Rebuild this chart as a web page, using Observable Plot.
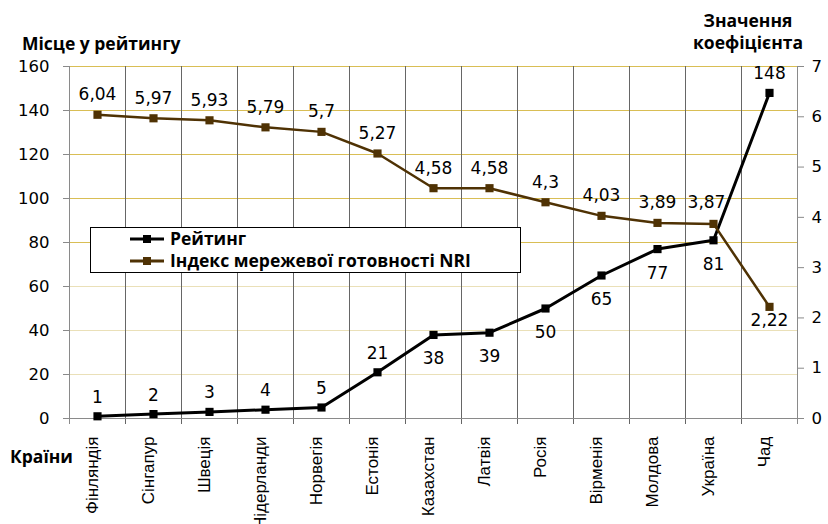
<!DOCTYPE html>
<html><head><meta charset="utf-8">
<script src="https://cdn.jsdelivr.net/npm/d3@7"></script>
<script src="https://cdn.jsdelivr.net/npm/@observablehq/plot@0.6"></script>
<style>
body{margin:0;background:#fff}
#wrap{position:relative;width:828px;height:524px;overflow:hidden;background:#fff}
#wrap svg{position:absolute;left:0;top:0}
</style></head><body><div id="wrap"></div>
<script>
const countries = ["Фінляндія","Сінгапур","Швеція","Нідерланди","Норвегія","Естонія","Казахстан","Латвія","Росія","Вірменія","Молдова","Україна","Чад"];
const rank = [1,2,3,4,5,21,38,39,50,65,77,81,148];
const nri = [6.04,5.97,5.93,5.79,5.7,5.27,4.58,4.58,4.3,4.03,3.89,3.87,2.22];
const leftTicks = [0,20,40,60,80,100,120,140,160];
const rightTicks = [0,1,2,3,4,5,6,7];
const seriesNames = ["Рейтинг","Індекс мережевої готовності NRI"];
const leftTitle = "Місце у рейтингу";
const rightTitle = ["Значення","коефіцієнта"];
const xTitle = "Країни";

const k = 160 / 7;
const data = countries.map((c, i) => ({c, i, rank: rank[i], nri: nri[i], nriY: nri[i] * k}));
const fmt = v => String(v).replace(".", ",");
const boundaries = d3.range(0, countries.length + 1).map(i => i - 0.5);
const inner = boundaries.slice(1, -1);
const edges = [boundaries[0], boundaries[boundaries.length - 1]];
const rankAbove = d => d.i <= 5 || d.i === countries.length - 1;
const nriBelow = d => d.i === countries.length - 1;
const numFont = "DejaVu Sans";
const BROWN = "#4F3204";
const LFS = 17;

const plot = Plot.plot({
  width: 828, height: 524,
  marginLeft: 69, marginRight: 31, marginTop: 66, marginBottom: 106,
  x: {domain: [-0.5, countries.length - 0.5], axis: null},
  y: {domain: [0, 160], axis: null},
  style: {fontFamily: numFont, fontSize: "16px", background: "white", color: "#000"},
  marks: [
    Plot.ruleY(leftTicks.filter(v => v >= 80), {stroke: "#D9BE55", strokeWidth: 1.2}),
    Plot.ruleY(leftTicks.filter(v => v > 0 && v < 80), {stroke: "#EAE0B8", strokeWidth: 1.2}),
    Plot.ruleX(inner, {stroke: "#666", insetBottom: -6}),
    Plot.ruleX(edges, {stroke: "#8a8a8a", insetBottom: -6}),
    Plot.ruleY([0], {stroke: "#8a8a8a"}),
    Plot.axisY(leftTicks, {anchor: "left", tickSize: 6, tickPadding: 14, label: null, stroke: "#8a8a8a", fontSize: 16.5, fontFamily: numFont}),
    Plot.axisY(rightTicks.map(v => v * k), {anchor: "right", tickSize: 6, tickPadding: 8, label: null, stroke: "#8a8a8a", tickFormat: v => String(Math.round(v / k)), fontSize: 16.5, fontFamily: numFont}),
    Plot.line(data, {x: "i", y: "rank", stroke: "#000", strokeWidth: 3}),
    Plot.line(data, {x: "i", y: "nriY", stroke: BROWN, strokeWidth: 2.5}),
    Plot.dot(data, {x: "i", y: "rank", symbol: "square", r: 4.6, fill: "#000", stroke: "none"}),
    Plot.dot(data, {x: "i", y: "nriY", symbol: "square", r: 4.6, fill: BROWN, stroke: "none"}),
    Plot.text(data.filter(rankAbove), {x: "i", y: "rank", text: d => fmt(d.rank), dy: -19, fill: "#000", fontSize: LFS}),
    Plot.text(data.filter(d => !rankAbove(d)), {x: "i", y: "rank", text: d => fmt(d.rank), dy: 24, fill: "#000", fontSize: LFS}),
    Plot.text(data.filter(d => !nriBelow(d) && d.i !== 11), {x: "i", y: "nriY", text: d => fmt(d.nri), dy: -20, fill: "#000", fontSize: LFS}),
    Plot.text(data.filter(d => d.i === 11), {x: "i", y: "nriY", text: d => fmt(d.nri), dy: -21, dx: -7, fill: "#000", fontSize: LFS}),
    Plot.text(data.filter(nriBelow), {x: "i", y: "nriY", text: d => fmt(d.nri), dy: 14, fill: "#000", fontSize: LFS}),
    Plot.text(data, {x: "i", frameAnchor: "bottom", dy: 18, rotate: -90, textAnchor: "end", text: "c", fill: "#000", fontSize: 17, fontFamily: "Liberation Sans"})
  ]
});
const wrap = document.getElementById("wrap");
wrap.appendChild(plot);

// overlay: titles and legend
const ov = d3.select(wrap).append("svg").attr("width", 828).attr("height", 524)
  .style("font-family", "'Open Sans', sans-serif").style("font-weight", "700").style("font-size", "17.5px");
ov.append("text").attr("x", 22).attr("y", 50).text(leftTitle);
ov.append("text").attr("x", 748).attr("y", 27).attr("text-anchor", "middle").text(rightTitle[0]);
ov.append("text").attr("x", 748).attr("y", 49).attr("text-anchor", "middle").text(rightTitle[1]);
ov.append("text").attr("x", 10).attr("y", 463).text(xTitle);
const lg = ov.append("g");
lg.append("rect").attr("x", 90.5).attr("y", 227.5).attr("width", 430).attr("height", 45).attr("fill", "#fff").attr("stroke", "#000").attr("stroke-width", 1);
const colors = ["#000", BROWN];
seriesNames.forEach((name, j) => {
  const y = 239 + j * 22;
  lg.append("line").attr("x1", 130).attr("x2", 164).attr("y1", y).attr("y2", y).attr("stroke", colors[j]).attr("stroke-width", 3);
  lg.append("rect").attr("x", 143).attr("y", y - 4).attr("width", 8).attr("height", 8).attr("fill", colors[j]);
  lg.append("text").attr("x", 170).attr("y", y + 6).text(name);
});
</script>
</body></html>
